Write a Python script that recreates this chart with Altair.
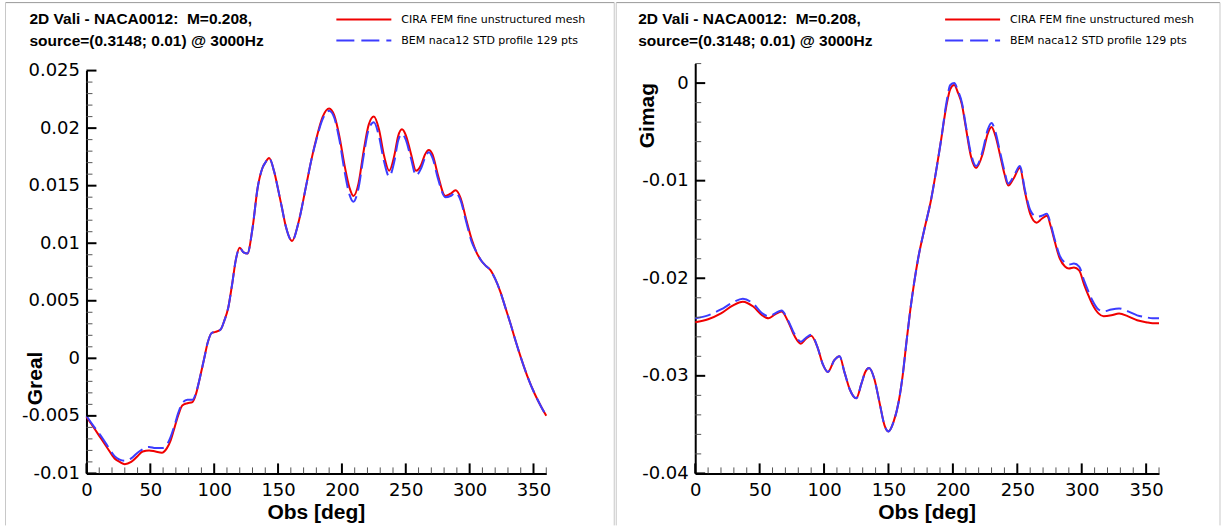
import altair as alt
import pandas as pd

# ---------------- texts ----------------
TITLE_LINES = ["2D Vali - NACA0012:\u00a0\u00a0M=0.208,", "source=(0.3148; 0.01) @ 3000Hz"]
LEGEND_LABELS = ["CIRA FEM fine unstructured mesh", "BEM naca12 STD profile 129 pts"]
X_TITLE = "Obs [deg]"
Y_TITLES = ["Greal", "Gimag"]

# ---------------- ticks ----------------
X_MAJOR = [0, 50, 100, 150, 200, 250, 300, 350]
X_MINOR = [10, 20, 30, 40, 60, 70, 80, 90, 110, 120, 130, 140, 160, 170, 180, 190,
           210, 220, 230, 240, 260, 270, 280, 290, 310, 320, 330, 340, 360]
GREAL_MAJOR = [-0.01, -0.005, 0, 0.005, 0.01, 0.015, 0.02, 0.025]
GREAL_MINOR = [-0.009, -0.008, -0.007, -0.006, -0.004, -0.003, -0.002, -0.001,
               0.001, 0.002, 0.003, 0.004, 0.006, 0.007, 0.008, 0.009,
               0.011, 0.012, 0.013, 0.014, 0.016, 0.017, 0.018, 0.019,
               0.021, 0.022, 0.023, 0.024]
GIMAG_MAJOR = [-0.04, -0.03, -0.02, -0.01, 0]
GIMAG_MINOR = [-0.038, -0.036, -0.034, -0.032, -0.028, -0.026, -0.024, -0.022,
               -0.018, -0.016, -0.014, -0.012, -0.008, -0.006, -0.004, -0.002, 0.002]

# ---------------- Greal data ----------------
GREAL_DEG = [0, 5, 11, 17, 22, 26, 30, 35, 40, 44, 49, 54, 59, 63, 66, 69, 72, 75, 79, 83,
             86, 89, 92, 95, 98, 101, 105, 108, 111, 114, 117, 120, 123, 126, 130, 134, 138,
             140, 143, 147, 150, 153, 156, 161, 166, 172, 176, 180, 185, 190, 194, 198, 202,
             206, 209, 213, 217, 221, 225, 229, 233, 237, 241, 244, 247, 250, 254, 258, 262,
             265, 268, 271, 275, 281, 285, 289, 293, 297, 302, 305, 309, 313, 316, 320, 324,
             328, 332, 336, 340, 345, 351, 356, 360]
GREAL_CIRA = [-0.0051, -0.0059, -0.0069, -0.0079, -0.0087, -0.0090, -0.0092, -0.0090, -0.0085,
              -0.0081, -0.0080, -0.0081, -0.0082, -0.0078, -0.0071, -0.0060, -0.0049, -0.0041,
              -0.0039, -0.0038, -0.0030, -0.0016, -0.0001, 0.0014, 0.0022, 0.0023, 0.0025,
              0.0033, 0.0044, 0.0064, 0.0086, 0.0096, 0.0092, 0.0091, 0.0113, 0.0148, 0.0166,
              0.0170, 0.0174, 0.0162, 0.0147, 0.0131, 0.0115, 0.0102, 0.0118, 0.0150, 0.0172,
              0.0191, 0.0210, 0.0217, 0.0211, 0.0193, 0.0168, 0.0148, 0.0141, 0.0152, 0.0180,
              0.0203, 0.0210, 0.0199, 0.0176, 0.0163, 0.0176, 0.0193, 0.0199, 0.0194, 0.0178,
              0.0163, 0.0168, 0.0177, 0.0181, 0.0177, 0.0160, 0.0141, 0.0143, 0.0146, 0.0139,
              0.0122, 0.0102, 0.0093, 0.0085, 0.0080, 0.0077, 0.0069, 0.0058, 0.0044, 0.0030,
              0.0015, 0.0001, -0.0015, -0.0031, -0.0042, -0.0050]
GREAL_BEM = [-0.0050, -0.0058, -0.0067, -0.0077, -0.0085, -0.0088, -0.0089, -0.0087, -0.0082,
             -0.0079, -0.0077, -0.0078, -0.0078, -0.0075, -0.0068, -0.0058, -0.0047, -0.0039,
             -0.0036, -0.0036, -0.0029, -0.0016, -0.0001, 0.0014, 0.0022, 0.0023, 0.0025,
             0.0033, 0.0044, 0.0064, 0.0086, 0.0096, 0.0092, 0.0091, 0.0113, 0.0148, 0.0166,
             0.0170, 0.0174, 0.0162, 0.0147, 0.0131, 0.0115, 0.0102, 0.0118, 0.0150, 0.0172,
             0.0190, 0.0208, 0.0215, 0.0209, 0.0190, 0.0163, 0.0142, 0.0136, 0.0148, 0.0176,
             0.0199, 0.0205, 0.0193, 0.0171, 0.0158, 0.0171, 0.0189, 0.0195, 0.0190, 0.0174,
             0.0159, 0.0165, 0.0174, 0.0179, 0.0174, 0.0157, 0.0140, 0.0141, 0.0144, 0.0137,
             0.0120, 0.0100, 0.0093, 0.0085, 0.0080, 0.0077, 0.0069, 0.0058, 0.0044, 0.0030,
             0.0015, 0.0001, -0.0015, -0.0031, -0.0042, -0.0050]

# ---------------- Gimag data ----------------
GIMAG_DEG = [0, 10, 20, 29, 37, 45, 52, 57, 62, 67, 72, 77, 82, 86, 90, 95, 99, 103, 108, 112,
             116, 120, 125, 129, 132, 135, 139, 143, 147, 150, 154, 158, 161, 164, 167, 170,
             173, 178, 183, 187, 191, 195, 198, 201, 204, 207, 210, 214, 218, 223, 227, 230,
             233, 236, 240, 243, 247, 252, 256, 260, 265, 269, 273, 276, 279, 283, 287, 290,
             294, 298, 302, 305, 308, 313, 317, 323, 329, 336, 343, 350, 355, 360]
GIMAG_CIRA = [-0.0245, -0.0242, -0.0236, -0.0228, -0.0224, -0.0229, -0.0238, -0.0241, -0.0237,
              -0.0234, -0.0244, -0.0259, -0.0267, -0.0262, -0.0259, -0.0271, -0.0288, -0.0296,
              -0.0284, -0.0280, -0.0297, -0.0314, -0.0323, -0.0308, -0.0296, -0.0292, -0.0303,
              -0.0327, -0.0351, -0.0357, -0.0347, -0.0326, -0.0300, -0.0265, -0.0232, -0.0204,
              -0.0180, -0.0149, -0.0120, -0.0090, -0.0057, -0.0023, -0.0006, -0.0002, -0.0010,
              -0.0022, -0.0045, -0.0075, -0.0087, -0.0073, -0.0052, -0.0045, -0.0054, -0.0070,
              -0.0093, -0.0105, -0.0098, -0.0087, -0.0112, -0.0134, -0.0143, -0.0139, -0.0136,
              -0.0147, -0.0162, -0.0180, -0.0188, -0.0190, -0.0189, -0.0192, -0.0207, -0.0217,
              -0.0226, -0.0236, -0.0239, -0.0238, -0.0236, -0.0239, -0.0243, -0.0245, -0.0246,
              -0.0246]
GIMAG_BEM = [-0.0241, -0.0238, -0.0232, -0.0225, -0.0221, -0.0226, -0.0236, -0.0239, -0.0236,
             -0.0233, -0.0243, -0.0257, -0.0265, -0.0261, -0.0258, -0.0271, -0.0288, -0.0296,
             -0.0284, -0.0280, -0.0297, -0.0314, -0.0323, -0.0308, -0.0296, -0.0292, -0.0303,
             -0.0327, -0.0351, -0.0357, -0.0347, -0.0326, -0.0300, -0.0265, -0.0232, -0.0204,
             -0.0180, -0.0149, -0.0120, -0.0090, -0.0057, -0.0020, -0.0002, 0.0000, -0.0008,
             -0.0020, -0.0043, -0.0072, -0.0085, -0.0070, -0.0048, -0.0041, -0.0050, -0.0067,
             -0.0090, -0.0103, -0.0096, -0.0085, -0.0110, -0.0130, -0.0137, -0.0136, -0.0134,
             -0.0145, -0.0160, -0.0177, -0.0184, -0.0186, -0.0185, -0.0188, -0.0203, -0.0213,
             -0.0222, -0.0232, -0.0234, -0.0232, -0.0231, -0.0234, -0.0238, -0.0240, -0.0241,
             -0.0241]

RED = "#f00000"
BLUE = "#3c3cff"
H = 410
TICK_FONT = "DejaVu Sans"
BOLD_FONT = "Liberation Sans"


def panel(deg, cira, bem, y_domain, y_range, y_major, y_minor, y_title, y_title_xy, W, frame):
    xs = alt.Scale(domain=[0, 360], nice=False, zero=False)
    ys = alt.Scale(domain=y_domain, range=y_range, nice=False, zero=False)
    xaxis = alt.Axis(values=X_MAJOR, ticks=False, domainColor="black", domainWidth=2,
                     labelFont=TICK_FONT, labelFontSize=18, labelColor="black", labelPadding=8,
                     labelFlush=False, labelOverlap=False, grid=False, title=None,
                     labelExpr="'' + datum.value")
    yaxis = alt.Axis(values=y_major, ticks=False, domainColor="black", domainWidth=2,
                     labelFont=TICK_FONT, labelFontSize=18, labelColor="black", labelPadding=7,
                     labelFlush=False, labelOverlap=False, grid=False, title=None,
                     labelExpr="'' + datum.value")
    df = pd.DataFrame({"deg": deg, "cira": cira, "bem": bem})
    base = alt.Chart(df)
    red = base.mark_line(color=RED, strokeWidth=2, interpolate="monotone").encode(
        x=alt.X("deg:Q", scale=xs, axis=xaxis), y=alt.Y("cira:Q", scale=ys, axis=yaxis))
    blue = base.mark_line(color=BLUE, strokeWidth=2, strokeDash=[16, 6], interpolate="monotone").encode(
        x=alt.X("deg:Q", scale=xs, axis=xaxis), y=alt.Y("bem:Q", scale=ys, axis=yaxis))

    def xt(vals, length, width, color):
        return alt.Chart(pd.DataFrame({"t": vals})).mark_rule(strokeWidth=width, color=color).encode(
            x=alt.X("t:Q", scale=xs, axis=xaxis), y=alt.value(H), y2=alt.value(H - length))

    def yt(vals, length, width, color):
        return alt.Chart(pd.DataFrame({"t": vals})).mark_rule(strokeWidth=width, color=color).encode(
            y=alt.Y("t:Q", scale=ys, axis=yaxis), x=alt.value(0), x2=alt.value(length))

    one = alt.Chart(pd.DataFrame({"d": [0]}))

    def txt(s, x, y, size, bold, font, align="left", baseline="alphabetic", angle=0):
        kw = dict(align=align, baseline=baseline, fontSize=size, font=font, color="black")
        if bold:
            kw["fontWeight"] = "bold"
        if angle:
            kw["angle"] = angle
        return one.mark_text(**kw).encode(x=alt.value(x), y=alt.value(y), text=alt.value(s))

    def seg(x1, x2, y1, y2, color, width, dash=None):
        kw = dict(color=color, strokeWidth=width)
        if dash:
            kw["strokeDash"] = dash
        return one.mark_rule(**kw).encode(x=alt.value(x1), x2=alt.value(x2),
                                          y=alt.value(y1), y2=alt.value(y2))

    fl, fr, ft, fb = frame
    layers = [
        red, blue,
        xt(X_MINOR, 6, 1, "#555555"), xt(X_MAJOR, 10, 2, "black"),
        yt(y_minor, 6, 1, "#555555"), yt(y_major, 10, 2, "black"),
        seg(fl, fr, ft, ft, "#9a9a9a", 1),
        seg(fl, fl, ft, fb, "#c8c8c8", 1),
    ]
    if fr > W:
        layers.append(seg(fr, fr, ft, fb, "#c8c8c8", 1))
    layers += [
        txt(TITLE_LINES[0], -57, -40, 15.5, True, BOLD_FONT),
        txt(TITLE_LINES[1], -57, -18, 15.5, True, BOLD_FONT),
        seg(250, 305, -44, -44, RED, 2),
        seg(250, 305, -23, -23, BLUE, 2, [18, 7]),
        txt(LEGEND_LABELS[0], 315, -44, 11, False, TICK_FONT, baseline="middle"),
        txt(LEGEND_LABELS[1], 315, -23, 11, False, TICK_FONT, baseline="middle"),
        txt(X_TITLE, W / 2, 450, 21, True, BOLD_FONT, align="center", baseline="middle"),
        txt(y_title, y_title_xy[0], y_title_xy[1], 21, True, BOLD_FONT, align="center",
            baseline="middle", angle=270),
    ]
    return alt.layer(*layers).properties(width=W, height=H)


left = panel(GREAL_DEG, GREAL_CIRA, GREAL_BEM, [-0.01, 0.025], [H, 7], GREAL_MAJOR, GREAL_MINOR,
             Y_TITLES[0], (-50, 315), 460, (-81, 528, -61, 462))
right = panel(GIMAG_DEG, GIMAG_CIRA, GIMAG_BEM, [-0.04, 0.002], [H, 0], GIMAG_MAJOR, GIMAG_MINOR,
              Y_TITLES[1], (-47, 52), 464, (-79, 525, -61, 462))

chart = alt.hconcat(left, right, spacing=0).properties(
    padding={"left": 4.5, "top": 1.5, "right": 0, "bottom": 0},
    background="white",
).configure_view(stroke="transparent")

chart.save("out.html", embed_options={"renderer": "svg", "actions": False})
